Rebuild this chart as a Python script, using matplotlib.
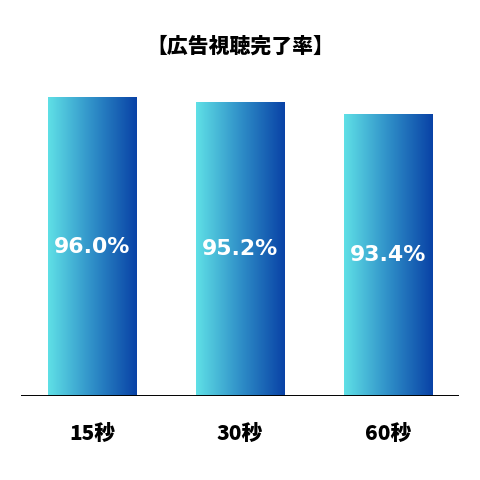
import numpy as np
import matplotlib
matplotlib.use("Agg")
import matplotlib.pyplot as plt
from matplotlib.colors import LinearSegmentedColormap

categories = ["15秒", "30秒", "60秒"]
values = [96.0, 95.2, 93.4]
value_labels = ["96.0%", "95.2%", "93.4%"]
title = "【広告視聴完了率】"

JP = ["Noto Sans CJK JP", "DejaVu Sans"]

fig = plt.figure(figsize=(4.8, 4.8), dpi=100)
ax = fig.add_axes([0.044, 0.175, 0.9125, 0.677])

grad = LinearSegmentedColormap.from_list("g", ["#5fe0e6", "#2f8fc8", "#0942a6"])
x = np.arange(len(categories))
bars = ax.bar(x, values, width=0.595, color="none", edgecolor="none", bottom=0)

ax.set_xlim(-0.478, len(categories) - 1 + 0.478)
ax.set_ylim(50, 100)

g = np.linspace(0, 1, 256).reshape(1, -1)
for b in bars:
    x0, w, h = b.get_x(), b.get_width(), b.get_height()
    im = ax.imshow(g, cmap=grad, aspect="auto", extent=[x0, x0 + w, 50, h],
                   origin="lower", zorder=2)
    im.set_clip_path(b)

for xi, v, lab in zip(x, values, value_labels):
    ax.text(xi, (50 + v) / 2, lab, color="white", ha="center", va="center",
            fontsize=15.8, fontweight="bold", family=["DejaVu Sans"], zorder=3)

ax.axhline(50, color="black", lw=1.4, zorder=4)
for s in ax.spines.values():
    s.set_visible(False)
ax.set_yticks([])
ax.set_xticks(x)
ax.set_xticklabels(categories, fontsize=15, fontweight="heavy", family=JP)
ax.tick_params(axis="x", length=0, pad=20)

fig.text(0.5, 0.904, title, ha="center", va="center", fontsize=15,
         fontweight="heavy", family=JP)

fig.savefig("out.png", dpi=100, facecolor="white")
